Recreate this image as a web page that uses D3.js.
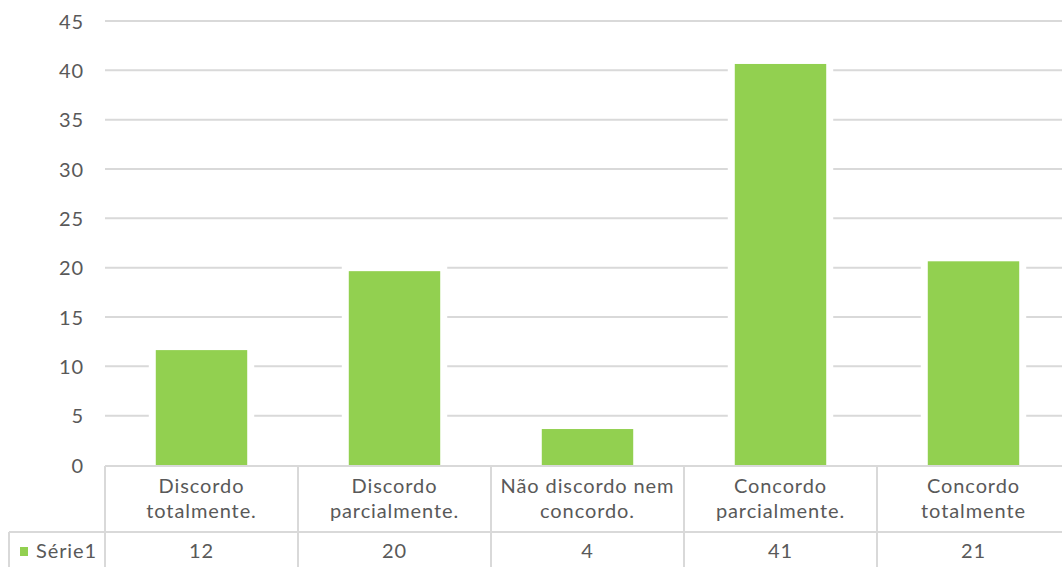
<!DOCTYPE html>
<html><head><meta charset="utf-8">
<script src="https://cdn.jsdelivr.net/npm/d3@7"></script>
<style>
html,body{margin:0;padding:0;background:#fff;overflow:hidden}
svg text{font-family:Lato,"Open Sans",sans-serif;fill:#595959;letter-spacing:0.9px}
</style></head>
<body>
<svg id="c" width="1062" height="567"></svg>
<script>
const categories = [["Discordo","totalmente."],["Discordo","parcialmente."],["Não discordo nem","concordo."],["Concordo","parcialmente."],["Concordo","totalmente"]];
const values = [12, 20, 4, 41, 21];
const seriesName = "Série1";
const yTicks = [0,5,10,15,20,25,30,35,40,45];

const svg = d3.select("#c");
const left = 105, colW = 193;
const x = d3.scaleBand().domain(d3.range(categories.length)).range([left, left + colW*categories.length]).paddingInner(0.49).paddingOuter(0.245);
const xc = d3.scaleBand().domain(d3.range(categories.length)).range([left, left + colW*categories.length]);
const y = d3.scaleLinear().domain([0,45]).range([465,21]);
const grid = "#d9d9d9";
const fs = 20;
const inset = 3.5;

// gridlines
svg.append("g").selectAll("line").data(yTicks.slice(1)).join("line")
  .attr("x1", left).attr("x2", 1062).attr("y1", d=>y(d)).attr("y2", d=>y(d))
  .attr("stroke", grid).attr("stroke-width", 2);

// y labels
const yAxis = d3.axisLeft(y).tickValues(yTicks).tickSize(0).tickPadding(0);
const ga = svg.append("g").attr("transform", "translate(84,0)").call(yAxis);
ga.select(".domain").remove();
ga.selectAll("text").attr("font-size", fs).attr("fill", "#595959").attr("dy", "0.36em").style("font-family","Lato");

// bars: white halo behind, green fill inset
const bars = svg.append("g");
bars.selectAll("rect.halo").data(values).join("rect").attr("class","halo")
  .attr("x", (d,i)=>x(i)-inset).attr("width", x.bandwidth()+2*inset)
  .attr("y", d=>y(d)-inset).attr("height", d=>y(0)-y(d)+inset)
  .attr("fill", "#fff");
bars.selectAll("rect.bar").data(values).join("rect").attr("class","bar")
  .attr("x", (d,i)=>x(i)+inset).attr("width", x.bandwidth()-2*inset)
  .attr("y", d=>y(d)+inset).attr("height", d=>y(0)-y(d)-inset)
  .attr("fill", "#92d050");

// data table
const tb = svg.append("g");
const rowTop = y(0)+1, rowMid = 532, rowBot = 600;
tb.append("line").attr("x1", left).attr("x2", 1100).attr("y1", rowTop).attr("y2", rowTop).attr("stroke", grid).attr("stroke-width", 2);
tb.append("line").attr("x1", 9).attr("x2", 1100).attr("y1", rowMid).attr("y2", rowMid).attr("stroke", grid).attr("stroke-width", 2);
tb.append("line").attr("x1", 9).attr("x2", 9).attr("y1", rowMid).attr("y2", rowBot).attr("stroke", grid).attr("stroke-width", 2);
tb.selectAll("line.v").data(d3.range(categories.length+1)).join("line").attr("class","v")
  .attr("x1", i=>left+i*colW).attr("x2", i=>left+i*colW).attr("y1", rowTop).attr("y2", rowBot)
  .attr("stroke", grid).attr("stroke-width", 2);

categories.forEach((c,i)=>{
  const t = tb.append("text").attr("text-anchor","middle").attr("font-size", fs);
  c.forEach((line,j)=>{
    t.append("tspan").attr("x", xc(i)+xc.bandwidth()/2).attr("y", 493 + j*25).text(line);
  });
});
tb.selectAll("text.val").data(values).join("text").attr("class","val")
  .attr("x", (d,i)=>xc(i)+xc.bandwidth()/2).attr("y", 558).attr("text-anchor","middle").attr("font-size", fs).text(d=>d);

// legend key
tb.append("rect").attr("x", 20).attr("y", 547).attr("width", 8).attr("height", 9).attr("fill", "#92d050");
tb.append("text").attr("x", 36).attr("y", 558).attr("font-size", fs).text(seriesName);
</script>
</body></html>
